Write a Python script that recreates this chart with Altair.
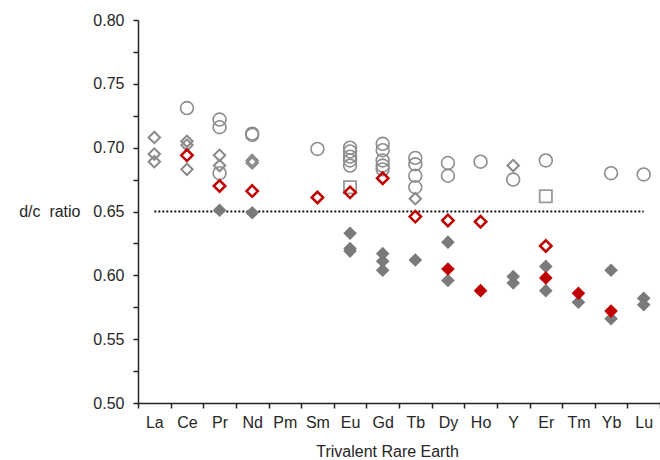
import altair as alt
import pandas as pd

elements = ["La", "Ce", "Pr", "Nd", "Pm", "Sm", "Eu", "Gd", "Tb", "Dy",
            "Ho", "Y", "Er", "Tm", "Yb", "Lu"]

# gray open circles
circ_el = ["Ce", "Pr", "Pr", "Pr", "Nd", "Nd", "Sm",
           "Eu", "Eu", "Eu", "Eu", "Eu",
           "Gd", "Gd", "Gd", "Gd", "Gd",
           "Tb", "Tb", "Tb", "Tb", "Dy", "Dy", "Ho", "Y", "Er", "Yb", "Lu"]
circ_val = [0.731, 0.722, 0.716, 0.680, 0.711, 0.710, 0.699,
            0.700, 0.697, 0.693, 0.690, 0.686,
            0.703, 0.698, 0.690, 0.686, 0.683,
            0.692, 0.687, 0.678, 0.669, 0.688, 0.678, 0.689, 0.675, 0.690, 0.680, 0.679]

# gray open diamonds
odia_el = ["La", "La", "La", "Ce", "Ce", "Ce", "Pr", "Pr", "Nd", "Nd", "Tb", "Y"]
odia_val = [0.708, 0.695, 0.689, 0.705, 0.702, 0.683, 0.694, 0.686, 0.690, 0.688, 0.660, 0.686]

# gray open squares
sq_el = ["Eu", "Er"]
sq_val = [0.669, 0.662]

# gray filled diamonds
fdia_el = ["Pr", "Nd", "Eu", "Eu", "Eu", "Gd", "Gd", "Gd", "Tb", "Dy", "Dy",
           "Y", "Y", "Er", "Er", "Tm", "Yb", "Yb", "Lu", "Lu"]
fdia_val = [0.651, 0.649, 0.633, 0.621, 0.619, 0.617, 0.611, 0.604, 0.612, 0.626, 0.596,
            0.599, 0.594, 0.607, 0.588, 0.579, 0.604, 0.566, 0.582, 0.577]

# red open diamonds
rodia_el = ["Ce", "Pr", "Nd", "Sm", "Eu", "Gd", "Tb", "Dy", "Ho", "Er"]
rodia_val = [0.694, 0.670, 0.666, 0.661, 0.665, 0.676, 0.646, 0.643, 0.642, 0.623]

# red filled diamonds
rfdia_el = ["Dy", "Ho", "Er", "Tm", "Yb"]
rfdia_val = [0.605, 0.588, 0.598, 0.586, 0.572]

ref_el = ["La", "Lu"]
ref_val = [0.65, 0.65]

def frame(el, val):
    return pd.DataFrame({"element": el, "ratio": val})

x_enc = alt.X("element:N", sort=elements,
              scale=alt.Scale(domain=elements, type="band", paddingInner=0, paddingOuter=0),
              axis=alt.Axis(title="Trivalent Rare Earth", tickBand="extent", labelAngle=0,
                            labelFontSize=16, titleFontSize=16, titleFontWeight="normal",
                            labelColor="#262626", titleColor="#262626",
                            domainColor="#222", tickColor="#222", domainWidth=1.5,
                            tickWidth=1.5, tickSize=5, labelPadding=6, titlePadding=13,
                            titleX=249, titleAlign="center",
                            grid=False, labelFont="Liberation Sans", titleFont="Liberation Sans"))
tick_vals = [0.5 + 0.025 * i for i in range(13)]
y_enc = alt.Y("ratio:Q",
              scale=alt.Scale(domain=[0.5, 0.8], nice=False, zero=False),
              axis=alt.Axis(title="d/c\u00a0\u00a0ratio", values=tick_vals,
                            labelExpr="round(datum.value*1000) % 50 == 0 ? format(datum.value, '.2f') : ''",
                            labelFontSize=16, titleFontSize=16, titleFontWeight="normal",
                            labelColor="#262626", titleColor="#262626",
                            titleAngle=0, titleAlign="right", titleBaseline="middle",
                            titleX=-58, titleY=191,
                            domainColor="#222", tickColor="#222", domainWidth=1.5,
                            tickWidth=1.5, tickSize=5, labelPadding=9,
                            grid=False, labelFont="Liberation Sans", titleFont="Liberation Sans"))

ref = alt.Chart(frame(ref_el, ref_val)).mark_line(
    color="#111", strokeDash=[2, 2], strokeWidth=2
).encode(x=x_enc, y=y_enc)

circles = alt.Chart(frame(circ_el, circ_val)).mark_point(
    shape="circle", filled=False, stroke="#8c8c8c", strokeWidth=1.6, size=165, opacity=1
).encode(x=x_enc, y=y_enc)

odia = alt.Chart(frame(odia_el, odia_val)).mark_point(
    shape="diamond", filled=False, stroke="#8a8a8a", strokeWidth=2, size=130, opacity=1
).encode(x=x_enc, y=y_enc)

squares = alt.Chart(frame(sq_el, sq_val)).mark_point(
    shape="square", filled=False, stroke="#999999", strokeWidth=1.8, size=150, opacity=1
).encode(x=x_enc, y=y_enc)

fdia = alt.Chart(frame(fdia_el, fdia_val)).mark_point(
    shape="diamond", filled=True, color="#7a7a7a", size=185, opacity=1
).encode(x=x_enc, y=y_enc)

rodia = alt.Chart(frame(rodia_el, rodia_val)).mark_point(
    shape="diamond", filled=False, stroke="#c00000", strokeWidth=2.5, size=130, opacity=1
).encode(x=x_enc, y=y_enc)

rfdia = alt.Chart(frame(rfdia_el, rfdia_val)).mark_point(
    shape="diamond", filled=True, color="#c00000", size=185, opacity=1
).encode(x=x_enc, y=y_enc)

chart = alt.layer(ref, circles, odia, squares, fdia, rodia, rfdia).properties(
    width=522, height=383,
    autosize=alt.AutoSizeParams(type="none"),
    padding={"left": 138, "top": 20, "right": 0, "bottom": 57},
    background="white",
).configure_view(stroke=None)

chart.save("out.html", embed_options={"renderer": "svg", "actions": False})
